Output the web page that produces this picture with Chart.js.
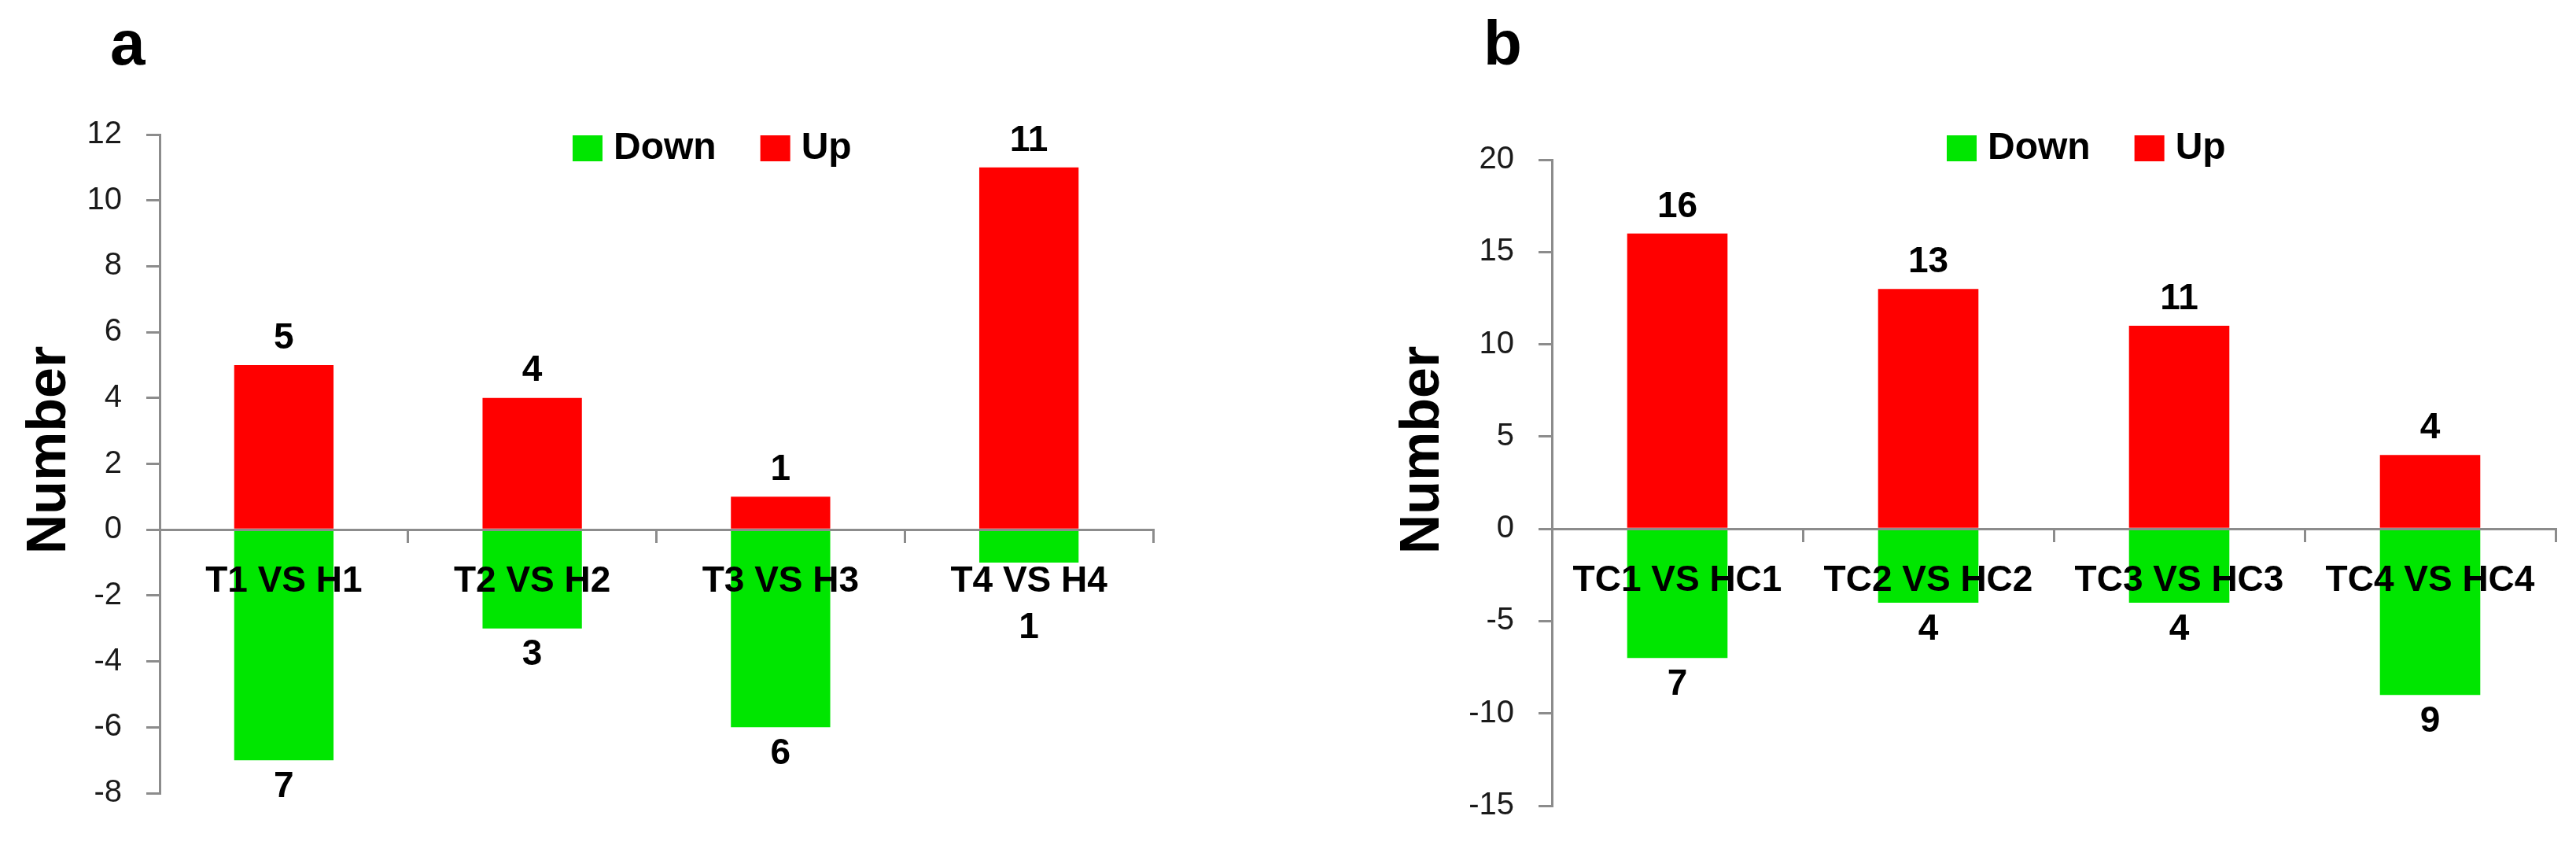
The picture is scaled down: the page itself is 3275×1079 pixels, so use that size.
<!DOCTYPE html>
<html>
<head>
<meta charset="utf-8">
<script src="https://cdn.jsdelivr.net/npm/chart.js@4.4.1/dist/chart.umd.min.js"></script>
<style>
  html, body { margin: 0; padding: 0; background: #fff; }
  body { width: 3275px; height: 1079px; position: relative; overflow: hidden; }
  canvas { position: absolute; top: 0; }
  #chartA { left: 0; }
  #chartB { left: 1640px; }
</style>
</head>
<body>
<canvas id="chartA" width="1640" height="1079"></canvas>
<canvas id="chartB" width="1635" height="1079"></canvas>
<script>
// panel a
const labelsA = ['T1 VS H1', 'T2 VS H2', 'T3 VS H3', 'T4 VS H4'];
const downA = [7, 3, 6, 1];
const upA = [5, 4, 1, 11];

// panel b
const labelsB = ['TC1 VS HC1', 'TC2 VS HC2', 'TC3 VS HC3', 'TC4 VS HC4'];
const downB = [7, 4, 4, 9];
const upB = [16, 13, 11, 4];

const ticksA = { min: -8, max: 12, step: 2 };
const ticksB = { min: -15, max: 20, step: 5 };

const FONT = '"Liberation Sans", Arial, sans-serif';
const GREEN = '#00e600';
const RED = '#ff0000';
const AXIS = '#8c8c8c';

// letters, axis title, legend and value labels
const decor = {
    id: 'decor',
    afterDatasetsDraw(chart, args, opts) {
        const ctx = chart.ctx;
        const y = chart.scales.y;
        const zero = y.getPixelForValue(0);
        ctx.save();
        ctx.fillStyle = '#000';

        // value labels, shown as counts
        ctx.font = 'bold 46px ' + FONT;
        ctx.textAlign = 'center';
        ctx.textBaseline = 'middle';
        chart.data.datasets.forEach((ds, i) => {
            chart.getDatasetMeta(i).data.forEach((bar, j) => {
                const v = ds.data[j];
                let ty;
                if (v >= 0) ty = bar.y - 34;
                else ty = Math.max(bar.y + 34, zero + 125);
                ctx.fillText(String(Math.abs(v)), bar.x, ty);
            });
        });

        // panel letter
        ctx.textAlign = 'left';
        ctx.textBaseline = 'alphabetic';
        ctx.font = 'bold 80px ' + FONT;
        ctx.fillText(opts.letter, opts.letterX, 82);

        // y title
        ctx.save();
        ctx.translate(opts.titleX, 572);
        ctx.rotate(-Math.PI / 2);
        ctx.textAlign = 'center';
        ctx.font = 'bold 70px ' + FONT;
        ctx.fillText('Number', 0, 0);
        ctx.restore();

        // legend
        let lx = opts.legendX;
        ctx.font = 'bold 48px ' + FONT;
        ctx.textAlign = 'left';
        chart.data.datasets.forEach(ds => {
            ctx.fillStyle = ds.backgroundColor;
            ctx.fillRect(lx, 172, 38, 33);
            ctx.fillStyle = '#000';
            ctx.fillText(ds.label, lx + 52, 202);
            lx += 52 + ctx.measureText(ds.label).width + 56;
        });
        ctx.restore();
    }
};

function makeChart(id, labels, down, up, t, pad, axisWidth, deco) {
    return new Chart(document.getElementById(id), {
        type: 'bar',
        data: {
            labels: labels,
            datasets: [
                { label: 'Down', data: down.map(v => -v), backgroundColor: GREEN, borderWidth: 0 },
                { label: 'Up', data: up, backgroundColor: RED, borderWidth: 0 }
            ]
        },
        options: {
            responsive: false,
            devicePixelRatio: 1,
            animation: false,
            layout: { padding: pad },
            categoryPercentage: 1,
            barPercentage: 0.4,
            plugins: {
                legend: { display: false },
                tooltip: { enabled: false },
                decor: deco
            },
            scales: {
                x: {
                    stacked: true,
                    position: { y: 0 },
                    border: { color: AXIS, width: 3, z: 1 },
                    grid: { drawOnChartArea: false, drawTicks: true, tickLength: 15, color: AXIS, lineWidth: 3 },
                    ticks: {
                        z: 2,
                        color: '#000',
                        font: { family: FONT, size: 46, weight: 'bold', lineHeight: 1.2 },
                        padding: 24,
                        maxRotation: 0,
                        autoSkip: false
                    }
                },
                y: {
                    stacked: true,
                    min: t.min,
                    max: t.max,
                    afterFit(scale) { scale.width = axisWidth; },
                    border: { color: AXIS, width: 3 },
                    grid: { drawOnChartArea: false, drawTicks: true, tickLength: 17, color: AXIS, lineWidth: 3 },
                    ticks: {
                        stepSize: t.step,
                        color: '#1a1a1a',
                        font: { family: FONT, size: 40 },
                        padding: 31
                    }
                }
            }
        },
        plugins: [decor]
    });
}

makeChart('chartA', labelsA, downA, upA, ticksA,
    { left: 0, right: 174, top: 171, bottom: 71 }, 203,
    { letter: 'a', letterX: 140, titleX: 83, legendX: 728 });

makeChart('chartB', labelsB, downB, upB, ticksB,
    { left: 0, right: 26, top: 203, bottom: 41 }, 333,
    { letter: 'b', letterX: 246, titleX: 189, legendX: 835 });
</script>
</body>
</html>
